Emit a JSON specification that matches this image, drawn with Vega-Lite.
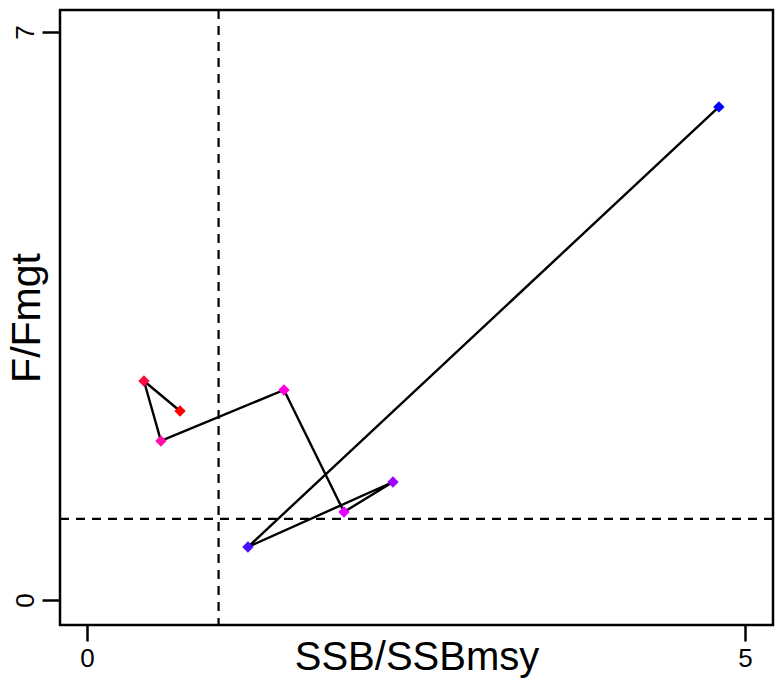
{
  "$schema": "https://vega.github.io/schema/vega-lite/v6.json",
  "width": 713,
  "height": 615,
  "autosize": {"type": "none"},
  "padding": {"left": 60, "top": 10, "right": 2, "bottom": 56},
  "background": "white",
  "config": {
    "font": "Liberation Sans",
    "view": {"stroke": "black", "strokeWidth": 2.5}
  },
  "datasets": {
    "pts": [
      {"order": 1, "ssb": 0.707, "f": 2.329, "col": "#FF0000"},
      {"order": 2, "ssb": 0.433, "f": 2.699, "col": "#FF0A40"},
      {"order": 3, "ssb": 0.562, "f": 1.960, "col": "#FF10A8"},
      {"order": 4, "ssb": 1.497, "f": 2.588, "col": "#FF00DC"},
      {"order": 5, "ssb": 1.953, "f": 1.085, "col": "#E600FF"},
      {"order": 6, "ssb": 2.325, "f": 1.454, "col": "#A000FF"},
      {"order": 7, "ssb": 1.223, "f": 0.653, "col": "#4A10FF"},
      {"order": 8, "ssb": 4.802, "f": 6.076, "col": "#0000FF"}
    ],
    "vref": [{"v": 1}],
    "href": [{"h": 1}]
  },
  "layer": [
    {
      "data": {"name": "vref"},
      "mark": {"type": "rule", "color": "black", "strokeWidth": 2.2, "strokeDash": [9, 7]},
      "encoding": {"x": {"field": "v", "type": "quantitative"}}
    },
    {
      "data": {"name": "href"},
      "mark": {"type": "rule", "color": "black", "strokeWidth": 2.2, "strokeDash": [9, 7]},
      "encoding": {"y": {"field": "h", "type": "quantitative"}}
    },
    {
      "data": {"name": "pts"},
      "mark": {"type": "line", "color": "black", "strokeWidth": 2.4},
      "encoding": {
        "x": {"field": "ssb", "type": "quantitative"},
        "y": {"field": "f", "type": "quantitative"},
        "order": {"field": "order", "type": "quantitative"}
      }
    },
    {
      "data": {"name": "pts"},
      "mark": {"type": "point", "shape": "diamond", "filled": true, "size": 130, "opacity": 1},
      "encoding": {
        "x": {
          "field": "ssb",
          "type": "quantitative",
          "scale": {"domain": [-0.205, 5.213], "nice": false, "zero": false},
          "axis": {
            "values": [0, 5],
            "format": "d",
            "domain": false,
            "grid": false,
            "tickSize": 16,
            "tickWidth": 2.5,
            "tickColor": "black",
            "labelFontSize": 26,
            "labelColor": "black",
            "labelPadding": 4,
            "labelFlush": false,
            "title": "SSB/SSBmsy",
            "titleFontSize": 40,
            "titleFontWeight": "normal",
            "titleColor": "black",
            "titleBaseline": "alphabetic",
            "titleY": 44
          }
        },
        "y": {
          "field": "f",
          "type": "quantitative",
          "scale": {"domain": [-0.308, 7.27], "nice": false, "zero": false},
          "axis": {
            "values": [0, 7],
            "format": "d",
            "domain": false,
            "grid": false,
            "tickSize": 18,
            "tickWidth": 2.5,
            "tickColor": "black",
            "labelFontSize": 26,
            "labelColor": "black",
            "labelAngle": -90,
            "labelAlign": "center",
            "labelBaseline": "bottom",
            "labelPadding": 4,
            "labelFlush": false,
            "title": "F/Fmgt",
            "titleFontSize": 41,
            "titleFontWeight": "normal",
            "titleColor": "black",
            "titleBaseline": "alphabetic",
            "titleX": -21
          }
        },
        "color": {"field": "col", "type": "nominal", "scale": null}
      }
    }
  ]
}
